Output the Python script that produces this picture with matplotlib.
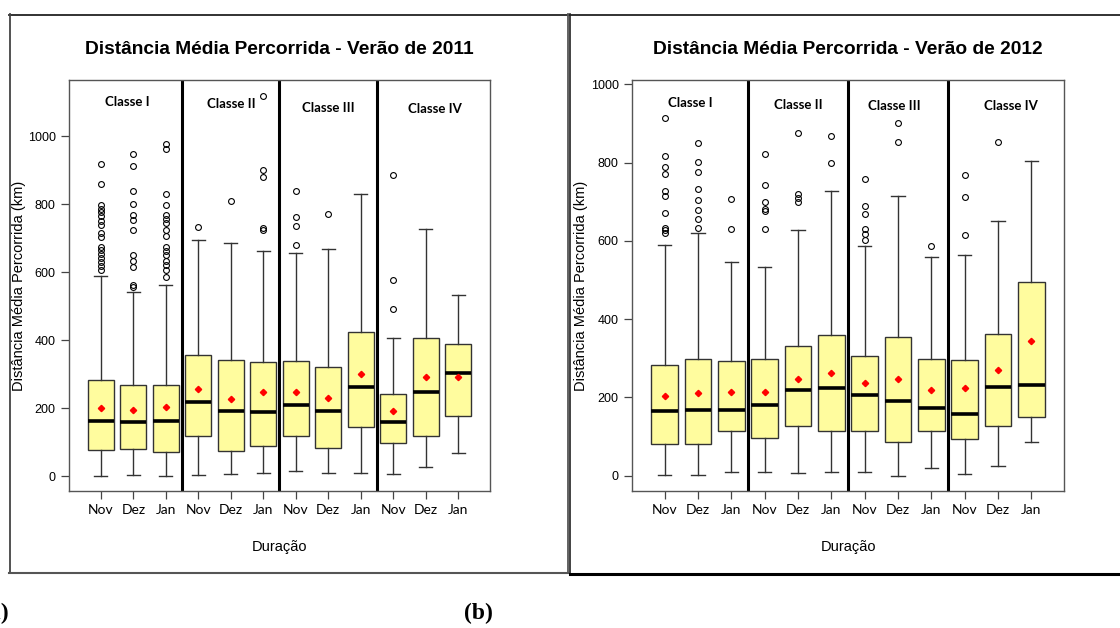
import matplotlib
matplotlib.use("Agg")
import matplotlib.pyplot as plt
from matplotlib.lines import Line2D

W, H = 1120, 628

months = ["Nov", "Dez", "Jan"] * 4
classes = ["Classe I", "Classe II", "Classe III", "Classe IV"]

# ---- Summer 2011 ----
q1_2011 = [78, 80, 72, 118, 75, 88, 118, 83, 144, 97, 118, 178]
med_2011 = [161, 159, 161, 217, 192, 187, 208, 190, 261, 159, 247, 302]
q3_2011 = [283, 267, 267, 356, 340, 336, 338, 321, 424, 242, 405, 387]
lo_2011 = [0, 3, 0, 3, 7, 10, 14, 10, 10, 6, 28, 68]
hi_2011 = [587, 541, 561, 693, 686, 662, 656, 667, 831, 406, 727, 532]
mean_2011 = [200, 194, 203, 255, 228, 246, 246, 231, 299, 191, 290, 290]
fliers_2011 = [
    [919, 858, 798, 787, 776, 764, 750, 737, 716, 703, 674, 664, 653, 641, 629, 617, 605],
    [946, 912, 838, 800, 769, 752, 725, 649, 632, 615, 561, 556],
    [976, 963, 829, 796, 767, 757, 744, 723, 705, 674, 662, 649, 634, 620, 605, 585],
    [732],
    [809],
    [1118, 901, 881, 730, 725],
    [838, 762, 735, 680],
    [770],
    [],
    [887, 576, 492],
    [],
    [],
]

# ---- Summer 2012 ----
q1_2012 = [80, 82, 114, 97, 126, 114, 115, 87, 115, 95, 127, 149]
med_2012 = [165, 169, 169, 180, 218, 225, 207, 192, 174, 158, 226, 232]
q3_2012 = [284, 299, 294, 299, 332, 359, 306, 355, 298, 295, 362, 495]
lo_2012 = [2, 2, 10, 10, 6, 10, 10, 0, 21, 4, 24, 87]
hi_2012 = [590, 620, 545, 534, 628, 728, 588, 714, 559, 564, 651, 804]
mean_2012 = [203, 212, 214, 215, 246, 263, 236, 246, 220, 223, 269, 344]
fliers_2012 = [
    [914, 817, 790, 770, 728, 714, 672, 634, 628, 621],
    [851, 802, 775, 732, 704, 679, 657, 633],
    [708, 630],
    [822, 743, 700, 681, 676, 630],
    [876, 719, 709, 700],
    [869, 800],
    [757, 690, 668, 631, 617, 602],
    [902, 852],
    [587],
    [768, 713, 616],
    [852],
    [],
]

yticks_2011 = [0, 200, 400, 600, 800, 1000]
yticks_2012 = [0, 200, 400, 600, 800, 1000]

SANS = ["Liberation Sans", "DejaVu Sans"]
LABEL = ["Lato", "DejaVu Sans"]


def px_axes(x0, y0, x1, y1):
    return [x0 / W, 1 - y1 / H, (x1 - x0) / W, (y1 - y0) / H]


def fig_line(fig, xs, ys, **kw):
    fig.add_artist(Line2D([x / W for x in xs], [1 - y / H for y in ys],
                          transform=fig.transFigure, **kw))


def panel(fig, px, ylim, title, tcx, q1, med, q3, lo, hi, mean, fliers,
          yticks, label_pos, ylab_x):
    ax = fig.add_axes(px_axes(*px))
    stats = []
    for i in range(len(med)):
        stats.append(dict(q1=q1[i], med=med[i], q3=q3[i], whislo=lo[i],
                          whishi=hi[i], mean=mean[i], fliers=fliers[i]))
    pos = list(range(1, len(med) + 1))
    ax.bxp(stats, positions=pos, widths=0.8, patch_artist=True,
           showmeans=True, capwidths=0.4,
           boxprops=dict(facecolor="#FFFC9E", edgecolor="#333333", linewidth=1.0),
           whiskerprops=dict(color="#333333", linewidth=1.0),
           capprops=dict(color="#333333", linewidth=1.0),
           medianprops=dict(color="black", linewidth=2.6),
           meanprops=dict(marker="D", markerfacecolor="red", markeredgecolor="red",
                          markersize=3.2),
           flierprops=dict(marker="o", markerfacecolor="none", markeredgecolor="black",
                           markersize=4.2, markeredgewidth=0.8))
    ax.set_xlim(0.02, 12.98)
    ax.set_ylim(*ylim)
    for xs in (3.5, 6.5, 9.5):
        ax.axvline(xs, color="black", linewidth=2.2)
    ax.set_xticks(pos)
    ax.set_xticklabels(months, family=LABEL, fontsize=10)
    ax.set_yticks(yticks)
    ax.set_yticklabels([str(v) for v in yticks], family=SANS, fontsize=9)
    ax.tick_params(axis="both", length=6, width=0.9, color="#444444")
    ax.tick_params(axis="x", pad=3)
    for s in ax.spines.values():
        s.set_color("#555555")
        s.set_linewidth(1.0)
    for name, (lx, ly) in zip(classes, label_pos):
        ax.text(lx, ly, name, family=LABEL, fontweight="bold", fontsize=9.5,
                ha="center", va="center")
    ax.set_ylabel("Distância Média Percorrida (km)", family=SANS, fontsize=10.5)
    w = px[2] - px[0]
    h = px[3] - px[1]
    ax.yaxis.set_label_coords((ylab_x - px[0]) / w, 0.5)
    ax.set_xlabel("Duração", family=SANS, fontsize=10.5)
    ax.xaxis.set_label_coords(0.5, -(547 - px[3]) / h)
    ax.xaxis.label.set_va("center")
    ax.yaxis.label.set_va("center")
    fig.text(tcx / W, 1 - 49 / H, title, family=SANS, fontweight="bold",
             fontsize=13.8, ha="center", va="center")
    return ax


fig = plt.figure(figsize=(W / 100, H / 100), dpi=100)

panel(fig, (69, 80, 490, 491), (-44, 1165),
      "Distância Média Percorrida - Verão de 2011", 279,
      q1_2011, med_2011, q3_2011, lo_2011, hi_2011, mean_2011, fliers_2011,
      yticks_2011,
      [(1.82, 1100), (5.02, 1093), (7.99, 1082), (11.3, 1080)], 19)

panel(fig, (632, 80, 1064, 491), (-39, 1011),
      "Distância Média Percorrida - Verão de 2012", 848,
      q1_2012, med_2012, q3_2012, lo_2012, hi_2012, mean_2012, fliers_2012,
      yticks_2012,
      [(1.77, 951), (5.0, 948), (7.89, 945), (11.39, 945)], 581)

# screenshot frames around the two panels
fig_line(fig, [9, 1120], [14.5, 14.5], color="#222222", linewidth=1.3)
fig_line(fig, [9.5, 9.5], [14, 573], color="#444444", linewidth=1.3)
fig_line(fig, [9, 568], [573, 573], color="#555555", linewidth=1.5)
fig_line(fig, [567.5, 567.5], [14, 573], color="#555555", linewidth=1.3)
fig_line(fig, [570, 570], [14, 574], color="#222222", linewidth=1.2)
fig_line(fig, [570, 1120], [573.5, 573.5], color="black", linewidth=2.2)

# sub-figure letters
fig.text(9 / W, 1 - 613 / H, "(a)", family=["Liberation Serif", "DejaVu Serif"],
         fontweight="bold", fontsize=17, ha="right", va="center")
fig.text(478 / W, 1 - 613 / H, "(b)", family=["Liberation Serif", "DejaVu Serif"],
         fontweight="bold", fontsize=17, ha="center", va="center")

fig.savefig("out.png", dpi=100)
